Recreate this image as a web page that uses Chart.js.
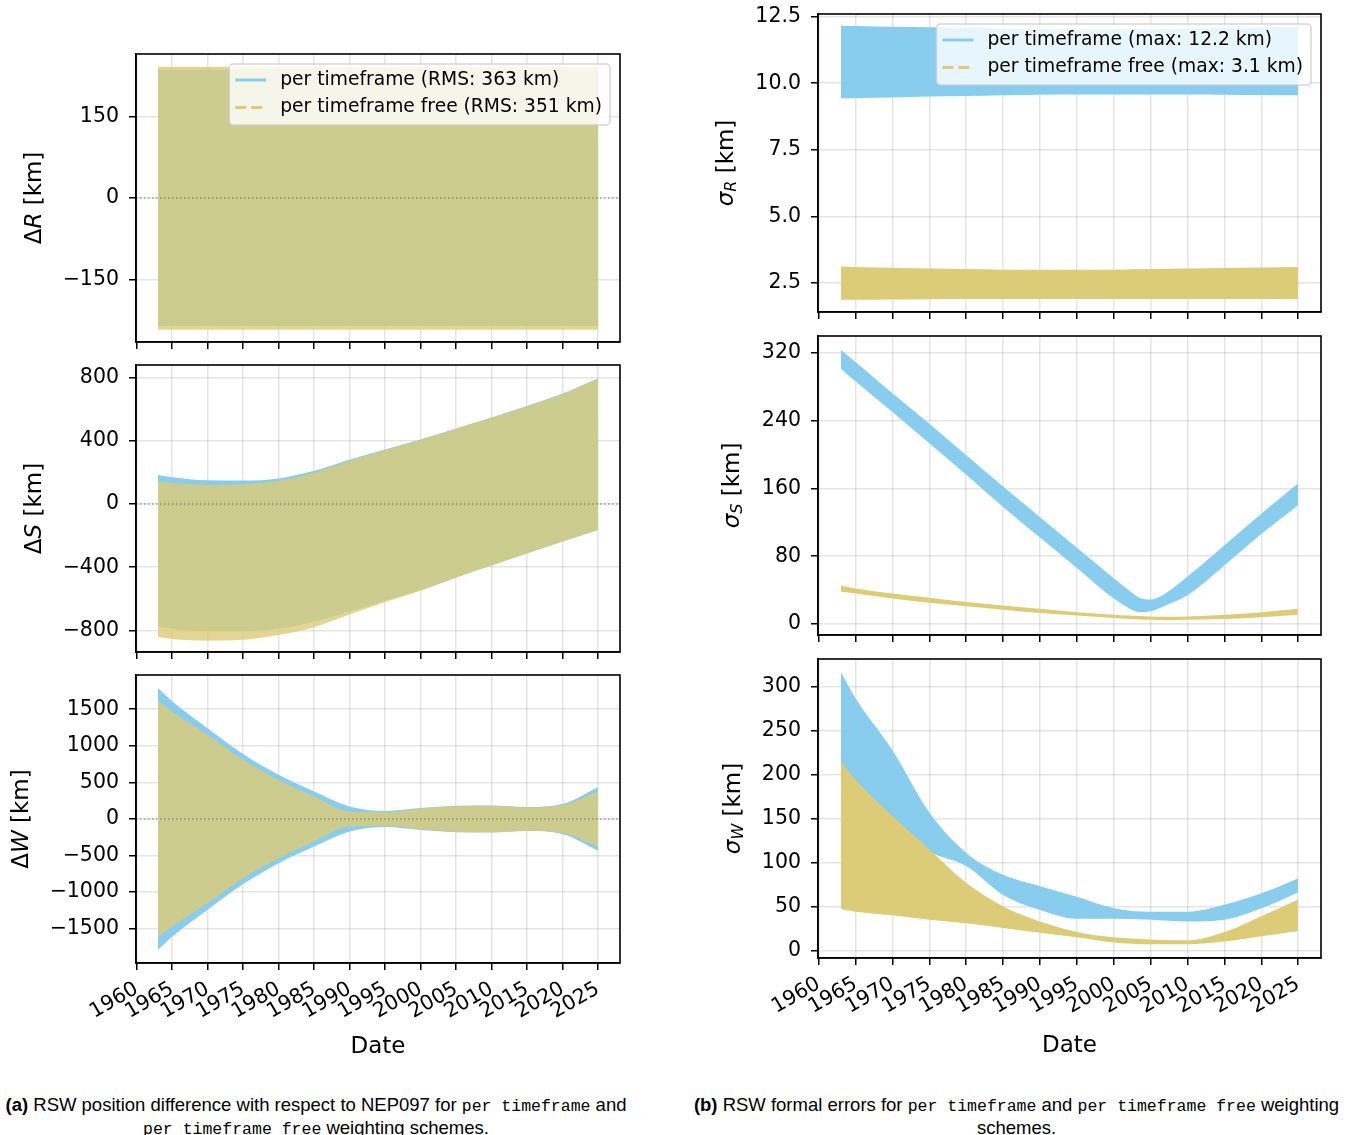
<!DOCTYPE html>
<html>
<head>
<meta charset="utf-8">
<script src="https://cdn.jsdelivr.net/npm/chart.js@4.4.0/dist/chart.umd.min.js"></script>
<style>
  html, body { margin: 0; padding: 0; background: #fff; }
  body { width: 1352px; height: 1135px; position: relative; overflow: hidden; }
  canvas { position: absolute; }
  .cap { position: absolute; text-align: center; color: #000;
         font-family: "Liberation Sans Narrow", "Arial Narrow", "Liberation Sans", sans-serif;
         font-size: 18.5px; line-height: 21px; }
  .cap .tt { font-family: "Liberation Mono", "DejaVu Sans Mono", monospace; font-size: 16.5px; }
</style>
</head>
<body>
<canvas id="dR"></canvas>
<canvas id="dS"></canvas>
<canvas id="dW"></canvas>
<canvas id="sR"></canvas>
<canvas id="sS"></canvas>
<canvas id="sW"></canvas>

<div class="cap" style="left:0px; width:632px; top:1094px;">
  <b>(a)</b> RSW position difference with respect to NEP097 for <span class="tt">per timeframe</span> and<br>
  <span class="tt">per timeframe free</span> weighting schemes.
</div>
<div class="cap" style="left:686px; width:661px; top:1094px;">
  <b>(b)</b> RSW formal errors for <span class="tt">per timeframe</span> and <span class="tt">per timeframe free</span> weighting<br>
  schemes.
</div>

<script>
// ---- time axis ----
const X_MIN = 1959.9, X_MAX = 2028.1;
const X_TICKS = [1960, 1965, 1970, 1975, 1980, 1985, 1990, 1995, 2000, 2005, 2010, 2015, 2020, 2025];

// envelope sample dates (decimal years)
const YEARS = [1963, 1965, 1970, 1975, 1980, 1985, 1990, 1995, 2000, 2005, 2010, 2015, 2020, 2025];

// ---- ΔR [km] envelopes ----
const R_YEARS   = [1963, 1975, 1985, 1995, 2005, 2015, 2025];
const DR_PT_UP  = [237, 237, 237, 237, 237, 237, 237];
const DR_PT_LO  = [-236, -236, -236, -236, -236, -236, -236];
const DR_PTF_UP = [242, 242, 242, 242, 242, 242, 242];
const DR_PTF_LO = [-243, -243, -243, -243, -243, -243, -243];

// ---- ΔS [km] envelopes ----
const DS_PT_UP  = [184, 170, 150, 148, 162, 210, 280, 345, 408, 478, 548, 620, 700, 795];
const DS_PT_LO  = [-775, -790, -805, -805, -790, -745, -680, -612, -545, -465, -388, -312, -237, -165];
const DS_PTF_UP = [142, 135, 122, 125, 147, 200, 274, 341, 405, 476, 546, 618, 698, 795];
const DS_PTF_LO = [-842, -855, -865, -860, -830, -780, -700, -622, -550, -467, -390, -313, -238, -165];

// ---- ΔW [km] envelopes ----
const DW_PT_UP  = [1790, 1610, 1241, 890, 604, 377, 172, 110, 150, 180, 185, 165, 205, 435];
const DW_PT_LO  = [-1790, -1610, -1241, -890, -604, -377, -172, -110, -150, -180, -185, -165, -205, -435];
const DW_PTF_UP = [1620, 1470, 1150, 810, 536, 308, 104, 95, 140, 175, 180, 160, 190, 380];
const DW_PTF_LO = [-1620, -1470, -1150, -810, -536, -308, -104, -95, -140, -175, -180, -160, -190, -380];

// ---- σR [km] envelopes ----
const SR_PT_UP  = [12.16, 12.15, 12.12, 12.1, 12.08, 12.05, 12.03, 12.02, 12.02, 12.03, 12.05, 12.07, 12.1, 12.12];
const SR_PT_LO  = [9.44, 9.44, 9.46, 9.5, 9.52, 9.55, 9.57, 9.58, 9.58, 9.58, 9.58, 9.57, 9.56, 9.55];
const SR_PTF_UP = [3.12, 3.1, 3.07, 3.04, 3.02, 3.0, 3.0, 3.0, 3.0, 3.02, 3.04, 3.06, 3.08, 3.1];
const SR_PTF_LO = [1.87, 1.87, 1.88, 1.89, 1.9, 1.9, 1.9, 1.9, 1.9, 1.9, 1.9, 1.9, 1.9, 1.89];

// ---- σS [km] envelopes ----
const S_YEARS   = [1963, 1965, 1970, 1975, 1980, 1985, 1990, 1995, 2000, 2002, 2003.5, 2005, 2007, 2010, 2015, 2020, 2025];
const SS_PT_UP  = [323, 309, 272, 236, 199, 162, 126, 90, 54, 40, 31, 29, 36, 56, 93, 130, 166];
const SS_PT_LO  = [301, 286, 250, 213, 176, 138, 102, 66, 30, 19, 14, 15, 22, 34, 69, 106, 140];
const SS_PTF_UP = [45, 42, 36, 31, 26, 22, 18, 14, 11, 10, 9.5, 9, 8.5, 9, 11, 14, 18];
const SS_PTF_LO = [38, 36, 30, 25, 21, 17, 13, 10, 7, 6, 5.5, 5, 4.5, 5, 6, 8, 11];

// ---- σW [km] envelopes ----
const SW_PT_UP  = [317, 287, 228, 157, 111, 86, 73, 61, 48, 44, 44, 52, 65, 82];
const SW_PT_LO  = [190, 175, 138, 112, 96, 63, 46, 36, 36, 35, 33, 35, 48, 66];
const SW_PTF_UP = [215, 194, 153, 115, 77, 50, 33, 21, 15, 12.5, 11.5, 21, 39, 58];
const SW_PTF_LO = [47, 44, 40, 35, 31, 25.5, 20, 15, 9, 7, 7, 10, 16, 22];

// ---- y tick values ----
const DR_TICKS = [-150, 0, 150];
const DS_TICKS = [-800, -400, 0, 400, 800];
const DW_TICKS = [-1500, -1000, -500, 0, 500, 1000, 1500];
const SR_TICKS = [2.5, 5.0, 7.5, 10.0, 12.5];
const SS_TICKS = [0, 80, 160, 240, 320];
const SW_TICKS = [0, 50, 100, 150, 200, 250, 300];

const BLUE = '#88CCEE';
const SAND = '#DDCC77';
const SAND_T = 'rgba(221,204,119,0.8)';
const TICK_FONT = { family: 'DejaVu Sans', size: 20.5 };
const LABEL_FONT = 'DejaVu Sans';

const pts = (xs, ys) => xs.map((x, i) => ({ x, y: ys[i] }));
const minus = v => (v < 0 ? '\u2212' : '') + Math.abs(v);

function band(label, xs, up, lo, color, order) {
  const common = { pointRadius: 0, borderWidth: 0, cubicInterpolationMode: 'monotone', order };
  return [
    Object.assign({ label, data: pts(xs, up), fill: '+1', backgroundColor: color, borderColor: color }, common),
    Object.assign({ label: label + ' (lower)', data: pts(xs, lo), fill: false, backgroundColor: color, borderColor: color }, common)
  ];
}

// frame, rich y-axis label and legend box, drawn on top of the plot
const decorations = {
  id: 'decorations',
  afterDraw(chart, args, o) {
    const ctx = chart.ctx, ca = chart.chartArea;
    ctx.save();
    ctx.strokeStyle = '#000';
    ctx.lineWidth = 1.6;
    ctx.strokeRect(ca.left, ca.top, ca.right - ca.left, ca.bottom - ca.top);

    if (o.ylabel) {
      const segs = o.ylabel;
      const fontOf = s => (s.it ? 'italic ' : '') + (s.sub ? 16 : 23) + 'px "' + LABEL_FONT + '"';
      let total = 0;
      segs.forEach(s => { ctx.font = fontOf(s); s.w = ctx.measureText(s.t).width; total += s.w; });
      ctx.translate(ca.left - o.ylabelOffset, (ca.top + ca.bottom) / 2);
      ctx.rotate(-Math.PI / 2);
      ctx.fillStyle = '#000';
      ctx.textBaseline = 'middle';
      ctx.textAlign = 'left';
      let cx = -total / 2;
      segs.forEach(s => {
        ctx.font = fontOf(s);
        ctx.fillText(s.t, cx, s.sub ? 5 : 0);
        cx += s.w;
      });
      ctx.setTransform(1, 0, 0, 1, 0, 0);
    }

    if (o.legend) {
      ctx.font = '18.7px "' + LABEL_FONT + '"';
      const tw = Math.max.apply(null, o.legend.map(it => ctx.measureText(it.text).width));
      const w = 6 + 31 + 14 + tw + 8, h = 61;
      const x = ca.right - 10 - w, y = ca.top + 10, r = 4;
      ctx.beginPath();
      ctx.moveTo(x + r, y);
      ctx.arcTo(x + w, y, x + w, y + h, r);
      ctx.arcTo(x + w, y + h, x, y + h, r);
      ctx.arcTo(x, y + h, x, y, r);
      ctx.arcTo(x, y, x + w, y, r);
      ctx.closePath();
      ctx.fillStyle = 'rgba(255,255,255,0.8)';
      ctx.fill();
      ctx.strokeStyle = 'rgba(204,204,204,0.8)';
      ctx.lineWidth = 1.5;
      ctx.stroke();
      o.legend.forEach((it, i) => {
        const ry = y + 16 + i * 27.5;
        ctx.beginPath();
        ctx.setLineDash(it.dash || []);
        ctx.strokeStyle = it.color;
        ctx.lineWidth = 3;
        ctx.moveTo(x + 6, ry);
        ctx.lineTo(x + 37, ry);
        ctx.stroke();
        ctx.setLineDash([]);
        ctx.fillStyle = '#000';
        ctx.textBaseline = 'middle';
        ctx.textAlign = 'left';
        ctx.fillText(it.text, x + 51, ry);
      });
    }
    ctx.restore();
  }
};

function makePanel(id, g) {
  const cv = document.getElementById(id);
  const W = g.r - g.colLeft + 15;
  const top = g.t - 12;
  const H = g.b + g.xh - top;
  cv.width = W; cv.height = H;
  cv.style.left = g.colLeft + 'px';
  cv.style.top = top + 'px';
  cv.style.width = W + 'px';
  cv.style.height = H + 'px';

  const datasets = g.datasets.slice();
  if (g.zeroLine) {
    datasets.push({ data: [{ x: X_MIN, y: 0 }, { x: X_MAX, y: 0 }], borderColor: 'rgba(100,100,100,0.9)',
      borderWidth: 1, borderDash: [1.5, 2.5], pointRadius: 0, fill: false, order: -1 });
  }

  new Chart(cv, {
    type: 'line',
    data: { datasets },
    options: {
      responsive: false,
      animation: false,
      devicePixelRatio: 1,
      layout: { padding: { top: 12, right: 15, left: 0, bottom: 0 } },
      plugins: {
        legend: { display: false },
        tooltip: { enabled: false },
        decorations: { ylabel: g.ylabel, ylabelOffset: g.ylabelOffset, legend: g.legend }
      },
      scales: {
        x: {
          type: 'linear', min: X_MIN, max: X_MAX,
          afterBuildTicks: s => { s.ticks = X_TICKS.map(v => ({ value: v })); },
          afterFit: s => { s.height = g.xh; s.paddingLeft = 0; s.paddingRight = 0; },
          ticks: { display: g.showX, autoSkip: false, minRotation: 30, maxRotation: 30,
                   color: '#000', font: TICK_FONT, padding: 7, callback: v => String(v) },
          grid: { color: 'rgba(0,0,0,0.1)', lineWidth: 1.5, tickColor: '#000', tickWidth: 1.5, tickLength: 7 },
          border: { display: true, color: '#000', width: 1.6 },
          title: { display: g.showX, text: 'Date', color: '#000',
                   font: { family: LABEL_FONT, size: 23 }, padding: { top: 0, bottom: 2.2 } }
        },
        y: {
          type: 'linear', min: g.ymin, max: g.ymax,
          afterBuildTicks: s => { s.ticks = g.yticks.map(v => ({ value: v })); },
          afterFit: s => { s.width = g.l - g.colLeft; s.paddingTop = 0; s.paddingBottom = 0; },
          ticks: { color: '#000', font: TICK_FONT, padding: 10, callback: g.yfmt || minus },
          grid: { color: 'rgba(0,0,0,0.1)', lineWidth: 1.5, tickColor: '#000', tickWidth: 1.5, tickLength: 7 },
          border: { display: true, color: '#000', width: 1.6 }
        }
      }
    },
    plugins: [decorations]
  });
}

const LEFT = { colLeft: 0, l: 136, r: 620 };
const RIGHT = { colLeft: 680, l: 818, r: 1321 };

// (a) position differences
makePanel('dR', Object.assign({}, LEFT, {
  t: 54, b: 342, xh: 12, showX: false, ymin: -265.7, ymax: 265.7, yticks: DR_TICKS, zeroLine: true,
  ylabel: [{ t: '\u0394' }, { t: 'R', it: true }, { t: ' [km]' }], ylabelOffset: 101,
  legend: [{ text: 'per timeframe (RMS: 363 km)', color: BLUE },
           { text: 'per timeframe free (RMS: 351 km)', color: SAND, dash: [11, 5] }],
  datasets: band('per timeframe free', R_YEARS, DR_PTF_UP, DR_PTF_LO, SAND_T, 0)
    .concat(band('per timeframe', R_YEARS, DR_PT_UP, DR_PT_LO, BLUE, 1))
}));
makePanel('dS', Object.assign({}, LEFT, {
  t: 365, b: 652, xh: 12, showX: false, ymin: -937, ymax: 880, yticks: DS_TICKS, zeroLine: true,
  ylabel: [{ t: '\u0394' }, { t: 'S', it: true }, { t: ' [km]' }], ylabelOffset: 101,
  datasets: band('per timeframe free', YEARS, DS_PTF_UP, DS_PTF_LO, SAND_T, 0)
    .concat(band('per timeframe', YEARS, DS_PT_UP, DS_PT_LO, BLUE, 1))
}));
makePanel('dW', Object.assign({}, LEFT, {
  t: 675, b: 963, xh: 100, showX: true, ymin: -1968, ymax: 1968, yticks: DW_TICKS, zeroLine: true,
  ylabel: [{ t: '\u0394' }, { t: 'W', it: true }, { t: ' [km]' }], ylabelOffset: 114,
  datasets: band('per timeframe free', YEARS, DW_PTF_UP, DW_PTF_LO, SAND_T, 0)
    .concat(band('per timeframe', YEARS, DW_PT_UP, DW_PT_LO, BLUE, 1))
}));

// (b) formal errors
makePanel('sR', Object.assign({}, RIGHT, {
  t: 14, b: 312, xh: 12, showX: false, ymin: 1.41, ymax: 12.6, yticks: SR_TICKS, yfmt: v => v.toFixed(1),
  ylabel: [{ t: '\u03C3', it: true }, { t: 'R', it: true, sub: true }, { t: ' [km]' }], ylabelOffset: 91,
  legend: [{ text: 'per timeframe (max: 12.2 km)', color: BLUE },
           { text: 'per timeframe free (max: 3.1 km)', color: SAND, dash: [11, 5] }],
  datasets: band('per timeframe free', YEARS, SR_PTF_UP, SR_PTF_LO, SAND, 0)
    .concat(band('per timeframe', YEARS, SR_PT_UP, SR_PT_LO, BLUE, 1))
}));
makePanel('sS', Object.assign({}, RIGHT, {
  t: 336, b: 635, xh: 12, showX: false, ymin: -12.9, ymax: 339.5, yticks: SS_TICKS,
  ylabel: [{ t: '\u03C3', it: true }, { t: 'S', it: true, sub: true }, { t: ' [km]' }], ylabelOffset: 85,
  datasets: band('per timeframe free', S_YEARS, SS_PTF_UP, SS_PTF_LO, SAND, 0)
    .concat(band('per timeframe', S_YEARS, SS_PT_UP, SS_PT_LO, BLUE, 1))
}));
makePanel('sW', Object.assign({}, RIGHT, {
  t: 659, b: 958, xh: 104, showX: true, ymin: -8.7, ymax: 331.9, yticks: SW_TICKS,
  ylabel: [{ t: '\u03C3', it: true }, { t: 'W', it: true, sub: true }, { t: ' [km]' }], ylabelOffset: 84,
  datasets: band('per timeframe free', YEARS, SW_PTF_UP, SW_PTF_LO, SAND, 0)
    .concat(band('per timeframe', YEARS, SW_PT_UP, SW_PT_LO, BLUE, 1))
}));
</script>
</body>
</html>
